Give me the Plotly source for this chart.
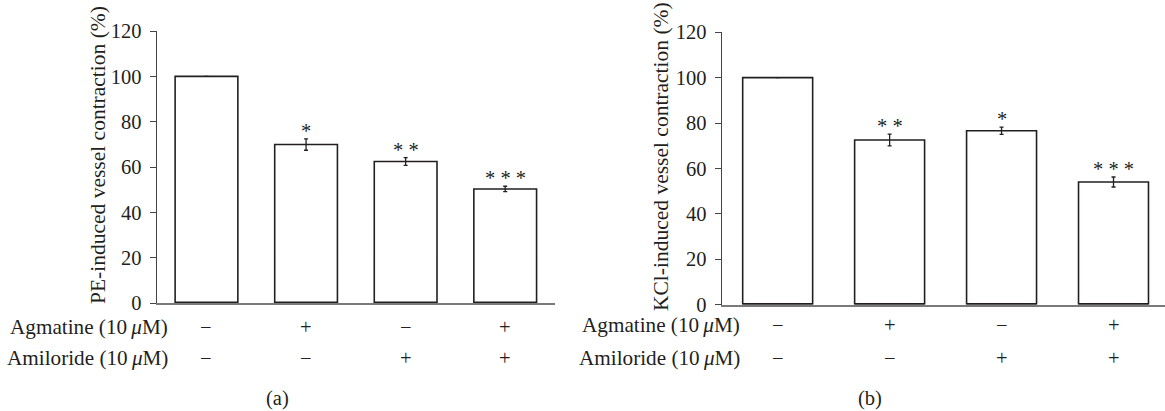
import plotly.graph_objects as go

# ---- data ----
groups = [0, 1, 2, 3]
agmatine = ["\u2212", "+", "\u2212", "+"]
amiloride = ["\u2212", "\u2212", "+", "+"]

pe_values = [100, 69.9, 62.4, 50.3]
pe_err = [0.0, 2.5, 1.7, 1.2]
pe_sig = ["", "*", "* *", "* * *"]

kcl_values = [100, 72.5, 76.6, 54.0]
kcl_err = [0.0, 2.6, 1.6, 2.2]
kcl_sig = ["", "* *", "*", "* * *"]

y_ticks = [0, 20, 40, 60, 80, 100, 120]
row_labels = ["Agmatine (10\u2009<i>\u03bc</i>M)", "Amiloride (10\u2009<i>\u03bc</i>M)"]

W, H = 1165, 411
FONT = "Liberation Serif"
TXT = "#231f20"
FS = 20.5
FS_LAB = 21.2
FS_TITLE = 21.5

fig = go.Figure()

def add_panel(vals, errs, xa, ya, width):
    fig.add_trace(go.Bar(
        x=groups, y=vals, xaxis=xa, yaxis=ya, width=width,
        marker=dict(color="white", line=dict(color="#231f20", width=1.6)),
        error_y=dict(type="data", array=errs, visible=True,
                     color="#231f20", thickness=1.3, width=2),
        showlegend=False, hoverinfo="skip"))

add_panel(pe_values, pe_err, "x", "y", 0.63)
add_panel(kcl_values, kcl_err, "x2", "y2", 0.625)

axis_common = dict(showgrid=False, zeroline=False, showline=True)
fig.update_layout(
    width=W, height=H,
    margin=dict(l=0, r=0, t=0, b=0, autoexpand=False),
    paper_bgcolor="white", plot_bgcolor="white",
    font=dict(family=FONT, size=FS, color=TXT),
    xaxis=dict(domain=[156.7 / W, 555 / W], range=[-0.5, 3.5], showticklabels=False,
               ticks="", linecolor="#7a7a7a", linewidth=1.8, layer="below traces",
               **axis_common),
    yaxis=dict(domain=[(H - 303) / H, (H - 31) / H], range=[0, 120],
               tickvals=y_ticks, ticks="outside", ticklen=6, tickwidth=1.2,
               tickcolor="#444", linecolor="#444", linewidth=1.3,
               ticklabelstandoff=4, tickfont=dict(family=FONT, size=FS, color=TXT),
               anchor="x", **axis_common),
    xaxis2=dict(domain=[721.7 / W, 1.0], range=[-0.5, 3.46], showticklabels=False,
                ticks="", linecolor="#7a7a7a", linewidth=1.8, layer="below traces",
                anchor="y2", **axis_common),
    yaxis2=dict(domain=[(H - 304.5) / H, (H - 32.3) / H], range=[0, 120],
                tickvals=y_ticks, ticks="outside", ticklen=6, tickwidth=1.2,
                tickcolor="#444", linecolor="#444", linewidth=1.3,
                ticklabelstandoff=4, tickfont=dict(family=FONT, size=FS, color=TXT),
                anchor="x2", **axis_common),
)

ann = []
shapes = []

def panel_annotations(vals, errs, sig, xa, ya, bw, label_right_px, row_y_px,
                      title, title_x_px, title_y_px, tag, tag_x_px):
    for g, v, e, s in zip(groups, vals, errs, sig):
        # thick black base of each bar
        shapes.append(dict(type="line", xref=xa, yref=ya, x0=g - bw / 2, x1=g + bw / 2,
                           y0=0, y1=0, line=dict(color="#231f20", width=3)))
        if s:
            ann.append(dict(x=g, y=v + e, xref=xa, yref=ya, text=s, showarrow=False,
                            xanchor="center", yanchor="bottom", yshift=-5,
                            font=dict(family=FONT, size=FS, color=TXT)))
    for r, (lab, signs) in enumerate(zip(row_labels, [agmatine, amiloride])):
        ypap = 1 - row_y_px[r] / H
        ann.append(dict(x=label_right_px / W, y=ypap, xref="paper", yref="paper",
                        text=lab, showarrow=False, xanchor="right", yanchor="middle",
                        font=dict(family=FONT, size=FS_LAB, color=TXT)))
        for g, sgn in zip(groups, signs):
            ann.append(dict(x=g, y=ypap, xref=xa, yref="paper", text=sgn,
                            showarrow=False, xanchor="center", yanchor="middle",
                            font=dict(family=FONT, size=FS, color=TXT)))
    ann.append(dict(x=title_x_px / W, y=1 - title_y_px / H, xref="paper", yref="paper",
                    text=title, textangle=-90, showarrow=False,
                    xanchor="center", yanchor="middle",
                    font=dict(family=FONT, size=FS_TITLE, color=TXT)))
    ann.append(dict(x=tag_x_px / W, y=1 - 398 / H, xref="paper", yref="paper",
                    text=tag, showarrow=False, xanchor="center", yanchor="middle",
                    font=dict(family=FONT, size=FS, color=TXT)))

panel_annotations(pe_values, pe_err, pe_sig, "x", "y", 0.63, 170, [327, 358],
                  "PE-induced vessel contraction (%)", 98, 155, "(a)", 277)
panel_annotations(kcl_values, kcl_err, kcl_sig, "x2", "y2", 0.625, 741.7, [325, 358],
                  "KCl-induced vessel contraction (%)", 661, 157, "(b)", 870)

fig.update_layout(annotations=ann, shapes=shapes)
fig.write_html("out.html", config={"displayModeBar": False},
               post_script="document.body.style.margin='0';")
